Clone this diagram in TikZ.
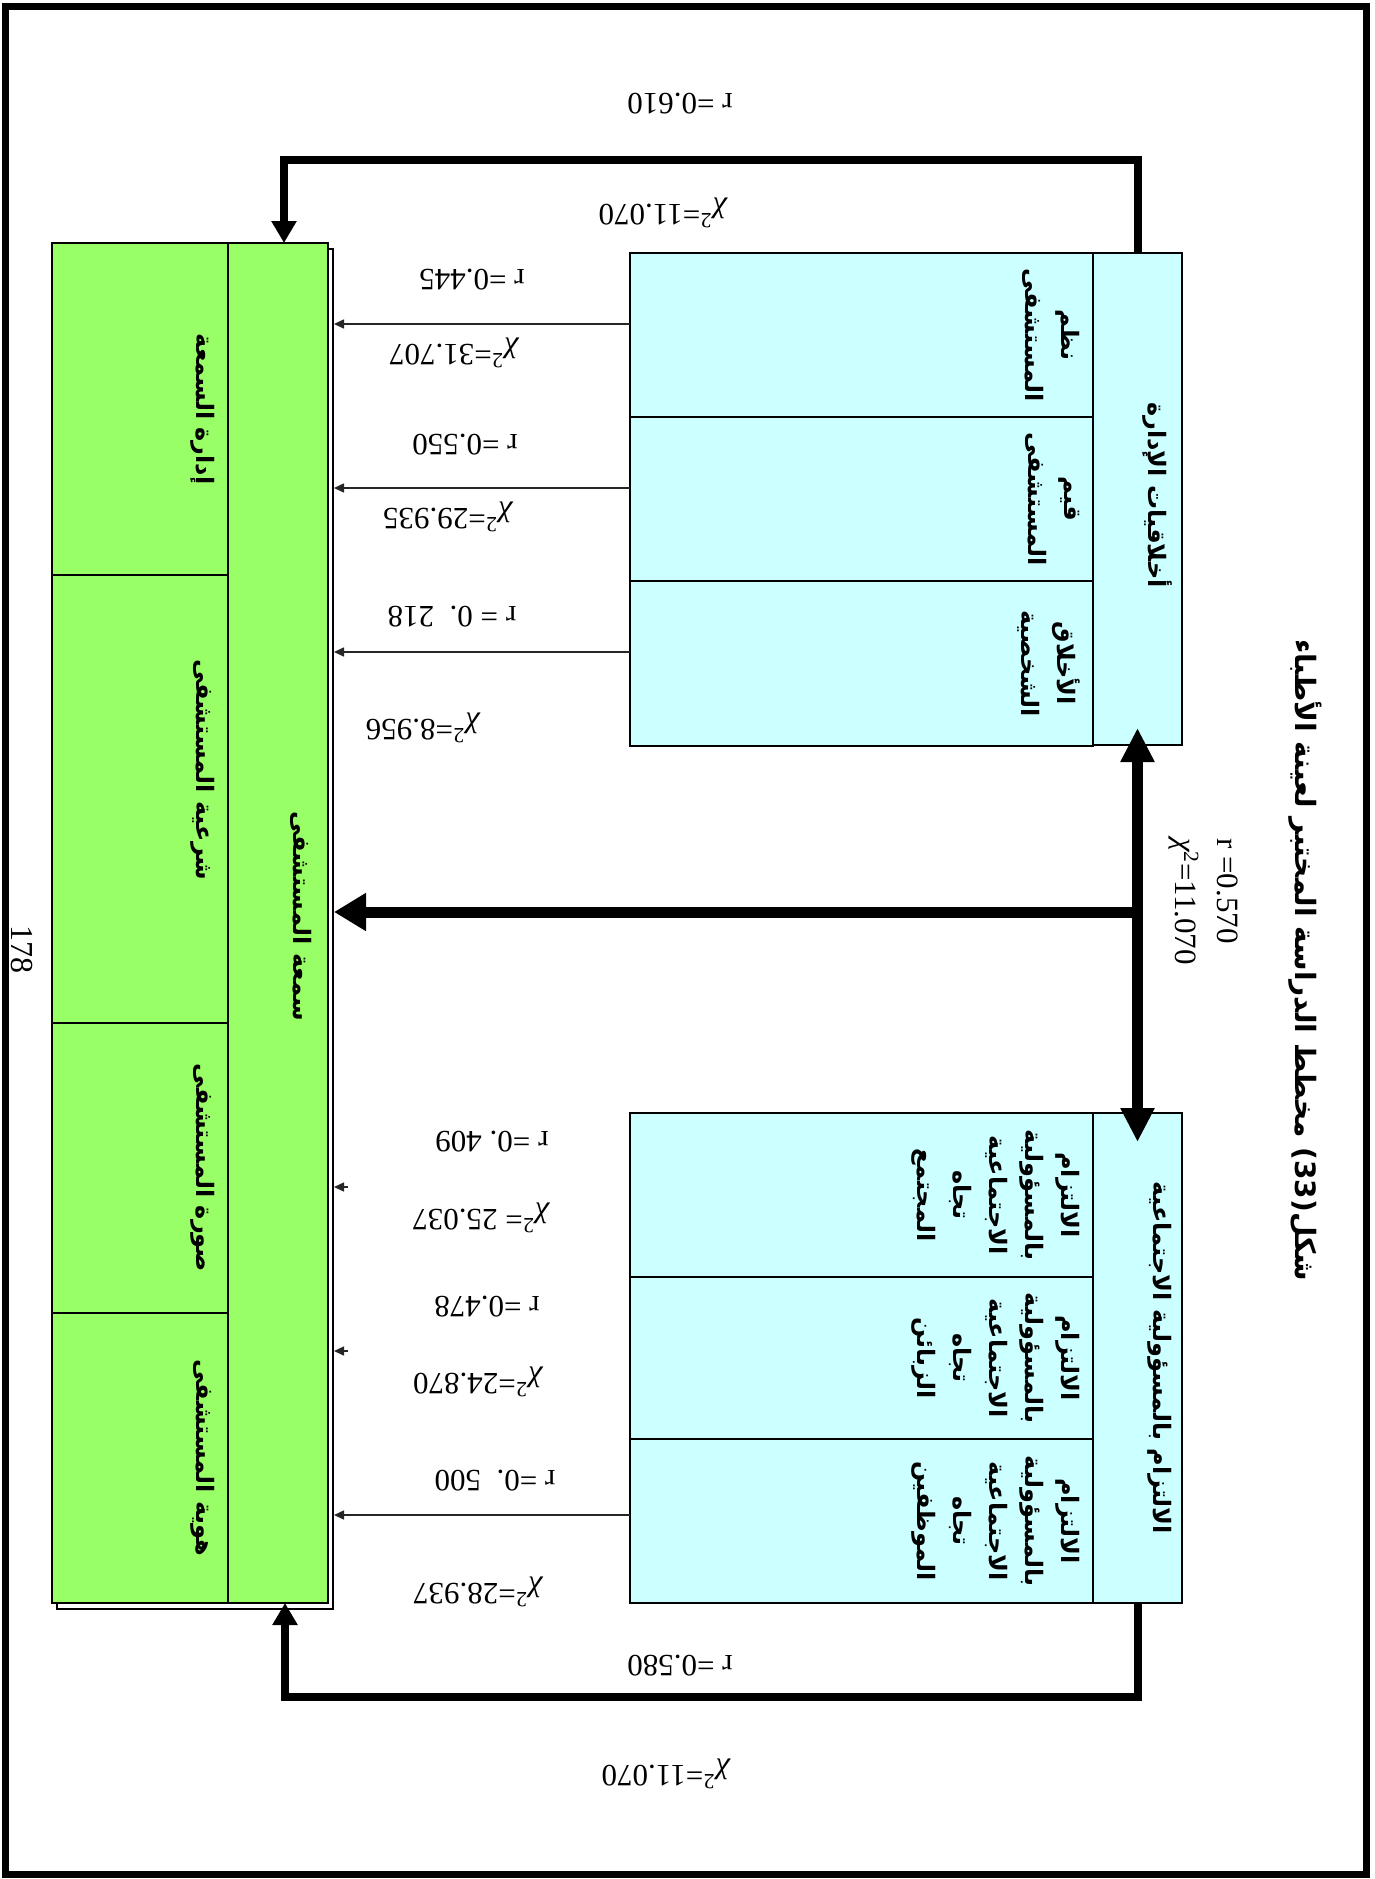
\documentclass[tikz,border=0pt]{standalone}
\usepackage{fontspec}
\setmainfont{Liberation Serif}
\newfontfamily\arabicfont[Script=Arabic]{DejaVu Sans}
\TeXXeTstate=1
\usetikzlibrary{arrows.meta,positioning,calc}
\definecolor{cellcyan}{RGB}{204,255,255}
\definecolor{cellgreen}{RGB}{153,255,102}
\newcommand{\ar}[1]{\beginR #1\endR}
\newcommand{\chisq}{{\itshape χ}\textsuperscript{2}}

\begin{document}
\begin{tikzpicture}[
  x=1pt, y=-1pt,
  cyancell/.style={draw, line width=2pt, fill=cellcyan, inner sep=0pt, outer sep=0pt, anchor=north west},
  greencell/.style={draw, line width=2pt, fill=cellgreen, inner sep=0pt, outer sep=0pt, anchor=north west},
  artext/.style={font=\arabicfont\bfseries\fontsize{24}{36}\selectfont, align=center, rotate=-90, inner sep=0pt, anchor=north},
  num/.style={font=\fontsize{31}{42}\selectfont, inner sep=0pt},
  numflip/.style={num, rotate=180},
  loopline/.style={line width=8pt, -{Triangle[length=22pt,width=24pt]}},
  midline/.style={line width=11pt},
  thinarrow/.style={line width=1.5pt, draw=black!85, -{Triangle[length=10pt,width=9pt]}}
]
\useasboundingbox (0,0) rectangle (1375,1879);

% page frame
\draw[line width=7pt] (5,6) rectangle (1366,1874);

\node[artext, font=\arabicfont\bfseries\fontsize{28}{36}\selectfont, anchor=center] (title) at (1305,960)
  {\ar{مخطط الدراسة المختبر لعينة الأطباء}\ (33)\ar{شكل}};

% green block
\node[draw, line width=2pt, fill=white, minimum width=276pt, minimum height=1360pt, inner sep=0pt, anchor=north west] (gshadow) at (56,248) {};
\node[greencell, minimum width=176pt, minimum height=332pt] (rmgt) at (52,243) {};
\node[greencell, minimum width=176pt, minimum height=448pt, below=0pt of rmgt] (legit) {};
\node[greencell, minimum width=176pt, minimum height=290pt, below=0pt of legit] (himage) {};
\node[greencell, minimum width=176pt, minimum height=290pt, below=0pt of himage] (ident) {};
\node[greencell, minimum width=100pt, minimum height=1360pt] (rep) at (228,243) {};

\node[artext] (rmgtl) at ([xshift=-13pt]rmgt.east) {\ar{إدارة السمعة}};
\node[artext] (legitl) at ([xshift=-13pt,yshift=29pt]legit.east) {\ar{شرعية المستشفى}};
\node[artext] (himagel) at ([xshift=-13pt]himage.east) {\ar{صورة المستشفى}};
\node[artext] (identl) at ([xshift=-13pt]ident.east) {\ar{هوية المستشفى}};
\node[artext] (repl) at ([xshift=-16pt,yshift=7pt]rep.east) {\ar{سمعة المستشفى}};

% management ethics
\node[cyancell, minimum width=89pt, minimum height=492pt] (ethics) at (1093,253) {};
\node[cyancell, minimum width=463pt, minimum height=164pt] (hsys) at (630,253) {};
\node[cyancell, minimum width=463pt, minimum height=164pt, below=0pt of hsys] (hval) {};
\node[cyancell, minimum width=463pt, minimum height=165pt, below=0pt of hval] (pers) {};

\node[artext] (ethicsl) at ([xshift=-9pt,yshift=4pt]ethics.east) {\ar{أخلاقيات الإدارة}};
\node[artext] (hsysl) at ([xshift=-13pt]hsys.east) {\ar{نظم}\\\ar{المستشفى}};
\node[artext] (hvall) at ([xshift=-13pt]hval.east) {\ar{قيم}\\\ar{المستشفى}};
\node[artext] (persl) at ([xshift=-13pt]pers.east) {\ar{الأخلاق}\\\ar{الشخصية}};

% social responsibility
\node[cyancell, minimum width=89pt, minimum height=490pt] (csr) at (1093,1113) {};
\node[cyancell, minimum width=463pt, minimum height=164pt] (soc) at (630,1113) {};
\node[cyancell, minimum width=463pt, minimum height=162pt, below=0pt of soc] (cust) {};
\node[cyancell, minimum width=463pt, minimum height=164pt, below=0pt of cust] (emp) {};

\node[artext] (csrl) at ([xshift=-10pt]csr.east) {\ar{الالتزام بالمسؤولية الاجتماعية}};
\node[artext] (socl) at ([xshift=-13pt]soc.east)
  {\ar{الالتزام}\\\ar{بالمسؤولية}\\\ar{الاجتماعية}\\\ar{تجاه}\\\ar{المجتمع}};
\node[artext] (custl) at ([xshift=-13pt]cust.east)
  {\ar{الالتزام}\\\ar{بالمسؤولية}\\\ar{الاجتماعية}\\\ar{تجاه}\\\ar{الزبائن}};
\node[artext] (empl) at ([xshift=-13pt]emp.east)
  {\ar{الالتزام}\\\ar{بالمسؤولية}\\\ar{الاجتماعية}\\\ar{تجاه}\\\ar{الموظفين}};

% connectors
\draw[loopline] (ethics.north) -- ++(0,-93) -| ([xshift=6pt]rep.north);
\draw[loopline] (csr.south) -- ++(0,94) -| ($(rep.south -| gshadow.south)+(90,0)$);
\draw[midline, {Triangle[length=34pt,width=32pt]}-{Triangle[length=34pt,width=32pt]}, shorten <=-17pt, shorten >=-29pt]
  (ethics.south) -- (csr.north);
\coordinate (hub) at (1137.5,912);
\draw[midline, -{Triangle[length=32pt,width=36pt]}] (hub) -- (hub -| gshadow.east);

\foreach \b/\s in {hsys/11, hval/11, pers/11.5, emp/6}
  \draw[thinarrow] ($(\b.west)+(0,-\s)$) -- ($(\b.west -| gshadow.east)+(0,-\s)$);
\foreach \b/\s in {soc/8, cust/7} {
  \coordinate (\b tip) at ($(\b.west -| gshadow.east)+(0,-\s)$);
  \draw[thinarrow] ($(\b tip)+(14,0)$) -- (\b tip);
}

% coefficients
\node[numflip] (rTop) at (680,104) {r =0.610};
\node[numflip] (cTop) at (662,213) {\chisq=11.070};
\node[numflip] (rSys) at (472,280) {r =0.445};
\node[numflip] (cSys) at (453,353) {\chisq=31.707};
\node[numflip] (rVal) at (465,445) {r =0.550};
\node[numflip] (cVal) at (447,517) {\chisq=29.935};
\node[numflip] (rPers) at (452,617) {r = 0.\ \ 218};
\node[numflip] (cPers) at (422,728) {\chisq=8.956};
\node[numflip] (rSoc) at (492,1142) {r =0.\ 409};
\node[numflip] (cSoc) at (480,1218) {\chisq=\ 25.037};
\node[numflip] (rCust) at (487,1307) {r =0.478};
\node[numflip] (cCust) at (477,1382) {\chisq=24.870};
\node[numflip] (rEmp) at (495,1481) {r =0.\ \ 500};
\node[numflip] (cEmp) at (477,1592) {\chisq=28.937};
\node[numflip] (rBot) at (680,1666) {r =0.580};
\node[numflip] (cBot) at (665,1774) {\chisq=11.070};
\node[num, rotate=-90, align=left, anchor=north west] (rMid) at (1238,838) {r =0.570\\\chisq=11.070};

\node[num, rotate=-90, font=\fontsize{32}{36}\selectfont] (page) at (22,949) {178};
\end{tikzpicture}
\end{document}
